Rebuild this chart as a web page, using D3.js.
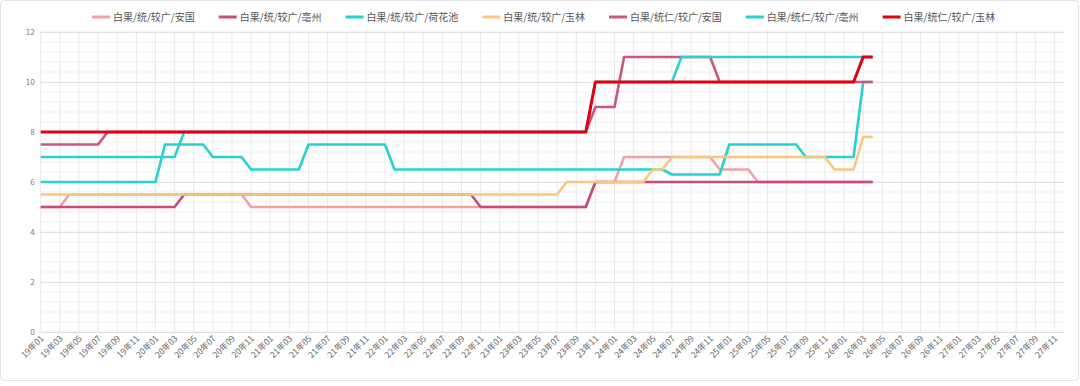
<!DOCTYPE html>
<html lang="zh">
<head>
<meta charset="UTF-8">
<title>白果价格</title>
<script src="https://d3js.org/d3.v7.min.js"></script>
<style>
  body { margin: 0; background: #fff; }
  svg text { font-family: "Noto Sans CJK SC", "Noto Sans", sans-serif; }
</style>
</head>
<body>
<svg width="1080" height="386" id="svg1"></svg>
<script>
// month categories 19年01 .. 27年12
var years = ["19", "20", "21", "22", "23", "24", "25", "26", "27"];
var monthNames = ["01", "02", "03", "04", "05", "06", "07", "08", "09", "10", "11", "12"];
var months = [];
years.forEach(function (y) {
    monthNames.forEach(function (m) { months.push(y + "年" + m); });
});

var seriesNames = [
    "白果/统/较广/安国", "白果/统/较广/亳州", "白果/统/较广/荷花池", "白果/统/较广/玉林",
    "白果/统仁/较广/安国", "白果/统仁/较广/亳州", "白果/统仁/较广/玉林"
];
var seriesColors = ["#f4a0a7", "#c94b7a", "#25d2cf", "#f8c97d", "#cc5584", "#2ad0d4", "#e3000f"];

var yTicks = [0, 2, 4, 6, 8, 10, 12];

// one row per year, from 19年01 to 26年04
var tongAnguo = [
    5, 5, 5, 5.5, 5.5, 5.5, 5.5, 5.5, 5.5, 5.5, 5.5, 5.5,
    5.5, 5.5, 5.5, 5.5, 5.5, 5.5, 5.5, 5.5, 5.5, 5.5, 5, 5,
    5, 5, 5, 5, 5, 5, 5, 5, 5, 5, 5, 5,
    5, 5, 5, 5, 5, 5, 5, 5, 5, 5, 5, 5,
    5, 5, 5, 5, 5, 5, 5, 5, 5, 5, 6, 6,
    6, 7, 7, 7, 7, 7, 7, 7, 7, 7, 7, 6.5,
    6.5, 6.5, 6.5, 6, 6, 6, 6, 6, 6, 6, 6, 6,
    6, 6, 6, 6
];
var tongBozhou = [
    5, 5, 5, 5, 5, 5, 5, 5, 5, 5, 5, 5,
    5, 5, 5, 5.5, 5.5, 5.5, 5.5, 5.5, 5.5, 5.5, 5.5, 5.5,
    5.5, 5.5, 5.5, 5.5, 5.5, 5.5, 5.5, 5.5, 5.5, 5.5, 5.5, 5.5,
    5.5, 5.5, 5.5, 5.5, 5.5, 5.5, 5.5, 5.5, 5.5, 5.5, 5, 5,
    5, 5, 5, 5, 5, 5, 5, 5, 5, 5, 6, 6,
    6, 6, 6, 6, 6, 6, 6, 6, 6, 6, 6, 6,
    6, 6, 6, 6, 6, 6, 6, 6, 6, 6, 6, 6,
    6, 6, 6, 6
];
var tongHehuachi = [
    6, 6, 6, 6, 6, 6, 6, 6, 6, 6, 6, 6,
    6, 7.5, 7.5, 7.5, 7.5, 7.5, 7, 7, 7, 7, 6.5, 6.5,
    6.5, 6.5, 6.5, 6.5, 7.5, 7.5, 7.5, 7.5, 7.5, 7.5, 7.5, 7.5,
    7.5, 6.5, 6.5, 6.5, 6.5, 6.5, 6.5, 6.5, 6.5, 6.5, 6.5, 6.5,
    6.5, 6.5, 6.5, 6.5, 6.5, 6.5, 6.5, 6.5, 6.5, 6.5, 6.5, 6.5,
    6.5, 6.5, 6.5, 6.5, 6.5, 6.5, 6.3, 6.3, 6.3, 6.3, 6.3, 6.3,
    7.5, 7.5, 7.5, 7.5, 7.5, 7.5, 7.5, 7.5, 7, 7, 7, 7,
    7, 7, 10, 10
];
var tongYulin = [
    5.5, 5.5, 5.5, 5.5, 5.5, 5.5, 5.5, 5.5, 5.5, 5.5, 5.5, 5.5,
    5.5, 5.5, 5.5, 5.5, 5.5, 5.5, 5.5, 5.5, 5.5, 5.5, 5.5, 5.5,
    5.5, 5.5, 5.5, 5.5, 5.5, 5.5, 5.5, 5.5, 5.5, 5.5, 5.5, 5.5,
    5.5, 5.5, 5.5, 5.5, 5.5, 5.5, 5.5, 5.5, 5.5, 5.5, 5.5, 5.5,
    5.5, 5.5, 5.5, 5.5, 5.5, 5.5, 5.5, 6, 6, 6, 6, 6,
    6, 6, 6, 6, 6.5, 6.5, 7, 7, 7, 7, 7, 7,
    7, 7, 7, 7, 7, 7, 7, 7, 7, 7, 7, 6.5,
    6.5, 6.5, 7.8, 7.8
];
var renAnguo = [
    7.5, 7.5, 7.5, 7.5, 7.5, 7.5, 7.5, 8, 8, 8, 8, 8,
    8, 8, 8, 8, 8, 8, 8, 8, 8, 8, 8, 8,
    8, 8, 8, 8, 8, 8, 8, 8, 8, 8, 8, 8,
    8, 8, 8, 8, 8, 8, 8, 8, 8, 8, 8, 8,
    8, 8, 8, 8, 8, 8, 8, 8, 8, 8, 9, 9,
    9, 11, 11, 11, 11, 11, 11, 11, 11, 11, 11, 10,
    10, 10, 10, 10, 10, 10, 10, 10, 10, 10, 10, 10,
    10, 10, 10, 10
];
var renBozhou = [
    7, 7, 7, 7, 7, 7, 7, 7, 7, 7, 7, 7,
    7, 7, 7, 8, 8, 8, 8, 8, 8, 8, 8, 8,
    8, 8, 8, 8, 8, 8, 8, 8, 8, 8, 8, 8,
    8, 8, 8, 8, 8, 8, 8, 8, 8, 8, 8, 8,
    8, 8, 8, 8, 8, 8, 8, 8, 8, 8, 10, 10,
    10, 10, 10, 10, 10, 10, 10, 11, 11, 11, 11, 11,
    11, 11, 11, 11, 11, 11, 11, 11, 11, 11, 11, 11,
    11, 11, 11, 11
];
var renYulin = [
    8, 8, 8, 8, 8, 8, 8, 8, 8, 8, 8, 8,
    8, 8, 8, 8, 8, 8, 8, 8, 8, 8, 8, 8,
    8, 8, 8, 8, 8, 8, 8, 8, 8, 8, 8, 8,
    8, 8, 8, 8, 8, 8, 8, 8, 8, 8, 8, 8,
    8, 8, 8, 8, 8, 8, 8, 8, 8, 8, 10, 10,
    10, 10, 10, 10, 10, 10, 10, 10, 10, 10, 10, 10,
    10, 10, 10, 10, 10, 10, 10, 10, 10, 10, 10, 10,
    10, 10, 11, 11
];

var allSeries = [tongAnguo, tongBozhou, tongHehuachi, tongYulin, renAnguo, renBozhou, renYulin];

var svg = d3.select("#svg1");

// outer frame
svg.append("rect")
    .attr("x", 0.5).attr("y", 0.5)
    .attr("width", 1078).attr("height", 380)
    .attr("rx", 4)
    .attr("fill", "#fff")
    .attr("stroke", "#e3e3e3");

var plotLeft = 40.7, plotRight = 1064, plotTop = 32, plotBottom = 332;

var xScale = d3.scalePoint().domain(months).range([plotLeft, plotRight]);
var yScale = d3.scaleLinear().domain([0, 12]).range([plotBottom, plotTop]);

var labelMonths = months.filter(function (d, i) { return i % 2 === 0; });

// minor horizontal grid, every 0.4
svg.append("g")
    .selectAll("line")
    .data(d3.range(0, 31).map(function (i) { return i * 0.4; }))
    .enter().append("line")
    .attr("x1", plotLeft).attr("x2", plotRight)
    .attr("y1", function (d) { return yScale(d); })
    .attr("y2", function (d) { return yScale(d); })
    .attr("stroke", "#f1f1f1");

// vertical grid
svg.append("g")
    .selectAll("line")
    .data(labelMonths)
    .enter().append("line")
    .attr("x1", function (d) { return xScale(d); })
    .attr("x2", function (d) { return xScale(d); })
    .attr("y1", plotTop).attr("y2", plotBottom)
    .attr("stroke", "#e9e9e9");

// y axis with major grid
var yAxis = svg.append("g")
    .attr("transform", "translate(" + plotLeft + ",0)")
    .call(d3.axisLeft(yScale).tickValues(yTicks).tickSizeInner(-(plotRight - plotLeft)).tickSizeOuter(0).tickPadding(6));
yAxis.select(".domain").remove();
yAxis.selectAll(".tick line").attr("stroke", "#e2e2e2");
yAxis.selectAll(".tick text")
    .attr("fill", "#777")
    .style("font-size", "8px");

// x axis
var xAxis = svg.append("g")
    .attr("transform", "translate(0," + plotBottom + ")")
    .call(d3.axisBottom(xScale).tickValues(labelMonths).tickSize(0).tickPadding(0));
xAxis.select(".domain").attr("stroke", "#dcdcdc");
xAxis.selectAll(".tick text")
    .attr("fill", "#666")
    .style("font-size", "8.5px")
    .attr("text-anchor", "end")
    .attr("y", 0)
    .attr("dy", "0.35em")
    .attr("transform", "translate(1,5) rotate(-45)");

// lines
var line = d3.line()
    .x(function (d, i) { return xScale(months[i]); })
    .y(function (d) { return yScale(d); });

allSeries.forEach(function (s, k) {
    svg.append("path")
        .datum(s)
        .attr("fill", "none")
        .attr("stroke", seriesColors[k])
        .attr("stroke-width", k === 6 ? 3 : 2.6)
        .attr("stroke-linejoin", "round")
        .attr("d", line);
});

// legend
var legend = svg.append("g").attr("transform", "translate(92,17)");
var lx = 0;
seriesNames.forEach(function (name, k) {
    var item = legend.append("g").attr("transform", "translate(" + lx + ",0)");
    item.append("line")
        .attr("x1", 0).attr("x2", 18)
        .attr("y1", 0).attr("y2", 0)
        .attr("stroke", seriesColors[k])
        .attr("stroke-width", 3);
    var t = item.append("text")
        .attr("x", 21).attr("y", 0)
        .attr("dy", "0.35em")
        .attr("fill", "#555")
        .style("font-size", "10px")
        .text(name);
    lx += 21 + t.node().getComputedTextLength() + 24;
});
</script>
</body>
</html>
